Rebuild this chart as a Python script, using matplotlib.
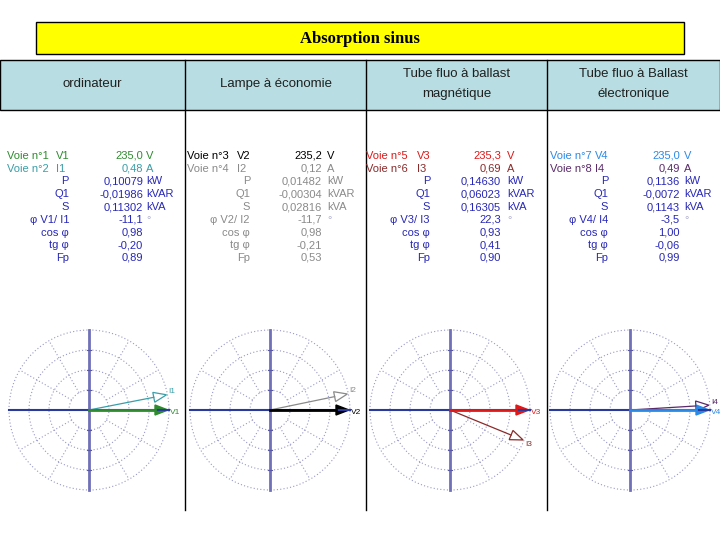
import numpy as np
import matplotlib
matplotlib.use("Agg")
import matplotlib.pyplot as plt
from matplotlib.patches import Rectangle, Circle, Polygon

# Data
titre = "Absorption sinus"
appareils = ["ordinateur", "Lampe à économie",
             "Tube fluo à ballast\nmagnétique", "Tube fluo à Ballast\nélectronique"]
voies = [(1, 2), (3, 4), (5, 6), (7, 8)]
tension_V = [235.0, 235.2, 235.3, 235.0]
courant_A = [0.48, 0.12, 0.69, 0.49]
P_kW = [0.10079, 0.01482, 0.14630, 0.1136]
Q_kVAR = [-0.01986, -0.00304, 0.06023, -0.0072]
S_kVA = [0.11302, 0.02816, 0.16305, 0.1143]
puissance_dec = [5, 5, 5, 4]
phi_deg = [-11.1, -11.7, 22.3, -3.5]
cos_phi = [0.98, 0.98, 0.93, 1.00]
tg_phi = [-0.20, -0.21, 0.41, -0.06]
Fp = [0.89, 0.53, 0.90, 0.99]

# colours: (V, I, other rows)
couleurs = [("#2e8b2e", "#3a9ea8", "#2828b8"),
            ("#000000", "#8a8a8a", "#8a8a8a"),
            ("#e01818", "#8b2a2a", "#2828b8"),
            ("#2a8ae8", "#5a2a6a", "#2828b8")]


def virgule(v, d):
    return f"{v:.{d}f}".replace(".", ",")


fig = plt.figure(figsize=(7.2, 5.4), dpi=100)
ax = fig.add_axes([0, 0, 1, 1])
ax.set_xlim(0, 720)
ax.set_ylim(540, 0)
ax.set_aspect("equal")
ax.axis("off")

# title box
ax.add_patch(Rectangle((36, 22), 648, 32, fc="#ffff00", ec="black", lw=1))
ax.text(360, 39, titre, ha="center", va="center", family="Liberation Serif",
        fontsize=12, fontweight="bold")

# header row
col_x = [0, 185, 366, 547, 720]
ax.add_patch(Rectangle((0, 60), 720, 50, fc="#b8dde2", ec="black", lw=1))
for x in col_x[1:-1]:
    ax.plot([x, x], [60, 510], color="black", lw=1)
for i, nom in enumerate(appareils):
    cx = (col_x[i] + col_x[i + 1]) / 2
    ax.text(cx, 84, nom, ha="center", va="center", family="Liberation Sans",
            fontsize=9.5, linespacing=1.9, color="#202020")

# measurement blocks
blocs = [(7, 69, 143, 146), (187, 250, 322, 327), (366, 430, 501, 507), (550, 608, 680, 684)]
y0, dy = 155, 12.75
fs = 8
for i in range(4):
    xv, xl, xr, xu = blocs[i]
    cV, cI, cA = couleurs[i]
    n = i + 1
    d = puissance_dec[i]
    rows = [
        (f"Voie n°{voies[i][0]}", f"V{n}", virgule(tension_V[i], 1), "V", cV),
        (f"Voie n°{voies[i][1]}", f"I{n}", virgule(courant_A[i], 2), "A", cI),
        (None, "P", virgule(P_kW[i], d), "kW", cA),
        (None, "Q1", virgule(Q_kVAR[i], d), "kVAR", cA),
        (None, "S", virgule(S_kVA[i], d), "kVA", cA),
        (None, f"φ V{n}/ I{n}", virgule(phi_deg[i], 1), "°", cA),
        (None, "cos φ", virgule(cos_phi[i], 2), "", cA),
        (None, "tg φ", virgule(tg_phi[i], 2), "", cA),
        (None, "Fp", virgule(Fp[i], 2), "", cA),
    ]
    for k, (voie, lab, val, unit, c) in enumerate(rows):
        y = y0 + k * dy + 4
        kw = dict(color=c, fontsize=fs, va="baseline", family=["Liberation Sans", "DejaVu Sans"])
        if voie is not None:
            ax.text(xv, y, voie, **kw)
            ax.text(xl - 13, y, lab, **kw)
        else:
            ax.text(xl, y, lab, ha="right", **kw)
        ax.text(xr, y, val, ha="right", **kw)
        if unit:
            kw["color"] = "#b0b0d0" if unit == "°" else c
            ax.text(xu, y, unit, **kw)

# phasor diagrams
centres = [89, 270, 450, 630]
cy = 410
R = 80
grille = "#9898c8"
for i, cx in enumerate(centres):
    cV, cI, cA = couleurs[i]
    for r in (20, 40, 60, 80):
        ax.add_patch(Circle((cx, cy), r, fill=False, ec=grille, lw=0.8, ls=(0, (1, 2))))
    for a in range(30, 360, 30):
        if a % 90 == 0:
            continue
        t = np.radians(a)
        ax.plot([cx + 20 * np.cos(t), cx + R * np.cos(t)],
                [cy - 20 * np.sin(t), cy - R * np.sin(t)],
                color=grille, lw=0.8, ls=(0, (1, 2)))
    ax.plot([cx, cx], [cy - R, cy + R], color="#7070b8", lw=2)
    ax.plot([cx - R, cx + R], [cy, cy], color="#2a3a9a", lw=1.5)
    for r in (-60, -40, -20, 20, 40, 60):
        ax.plot([cx - 2, cx + 2], [cy + r, cy + r], color="#5a5aa8", lw=0.8)

    n = i + 1
    # current (open head) then voltage (filled head)
    for ang, col, plein, lab, L in ((-phi_deg[i], cI, False, f"I{n}", 79),
                                    (0.0, cV, True, f"V{n}", 79)):
        t = np.radians(ang)
        u = np.array([np.cos(t), -np.sin(t)])
        nrm = np.array([u[1], -u[0]])
        tip = np.array([cx, cy]) + L * u
        base = tip - 13 * u
        tri = [tip, base + 5 * nrm, base - 5 * nrm]
        if plein:
            ax.plot([cx, base[0]], [cy, base[1]], color=col, lw=2)
            ax.add_patch(Polygon(tri, closed=True, fc=col, ec=col, lw=1))
        else:
            ax.plot([cx, base[0]], [cy, base[1]], color=col, lw=0.9)
            ax.add_patch(Polygon(tri, closed=True, fc="white", ec=col, lw=0.9))
        off = 3 if plein else -3 if ang > 0 else 5
        ax.text(tip[0] + 2, tip[1] + off, lab, color=col, fontsize=6,
                va="center", family="Liberation Sans")

fig.savefig("out.png", dpi=100)
